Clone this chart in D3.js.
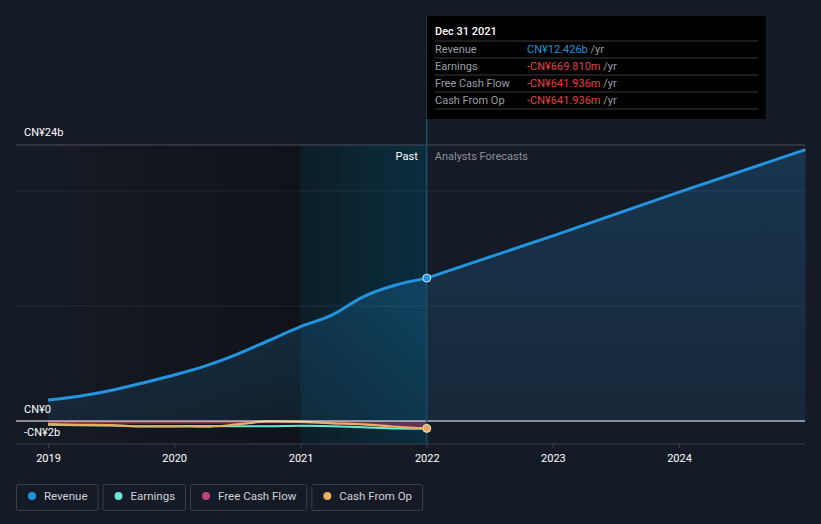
<!DOCTYPE html>
<html><head><meta charset="utf-8">
<script src="https://cdn.jsdelivr.net/npm/d3@7"></script>
<style>
html,body{margin:0;padding:0;background:#151b26;}
svg{display:block;font-family:Roboto,"Noto Sans",sans-serif;}
</style></head>
<body>
<svg id="c" width="821" height="524"></svg>
<script>
// ---- data ----
const revenueDates = ["2019-01-01","2019-04-01","2019-07-01","2019-10-01","2020-01-01","2020-04-01","2020-07-01","2020-10-01","2021-01-01","2021-04-01","2021-07-01","2021-10-01","2022-01-01"];
const revenueValues = [1.83,2.15,2.65,3.3,4.0,4.8,5.8,7.0,8.2,9.2,10.8,11.8,12.426];
const forecastDates = ["2022-01-01","2023-01-01","2024-01-01","2025-01-01"];
const forecastValues = [12.426,16.1,19.9,23.6];
const smallDates = ["2019-01-01","2019-04-01","2019-07-01","2019-10-01","2020-01-01","2020-04-01","2020-07-01","2020-10-01","2021-01-01","2021-04-01","2021-07-01","2021-10-01","2022-01-01"];
const earningsValues = [-0.33,-0.36,-0.40,-0.45,-0.45,-0.44,-0.45,-0.45,-0.42,-0.46,-0.55,-0.66,-0.670];
const fcfValues = [-0.12,-0.13,-0.14,-0.14,-0.14,-0.14,-0.13,-0.10,-0.10,-0.14,-0.25,-0.45,-0.642];
const cfoValues = [-0.27,-0.33,-0.36,-0.48,-0.46,-0.50,-0.30,-0.04,-0.08,-0.2,-0.3,-0.5,-0.642];
const yTickValues = [24,0,-2];
const yTickLabels = ["CN¥24b","CN¥0","-CN¥2b"];
const xTickYears = [2019,2020,2021,2022,2023,2024];
const legendLabels = ["Revenue","Earnings","Free Cash Flow","Cash From Op"];
const legendColors = ["#2394df","#6ce5d3","#c2407e","#e8ad5e"];
const tooltipRows = [["Revenue","CN¥12.426b","#2394df"],["Earnings","-CN¥669.810m","#e64040"],["Free Cash Flow","-CN¥641.936m","#e64040"],["Cash From Op","-CN¥641.936m","#e64040"]];

const svg = d3.select("#c");
const parse = d3.timeParse("%Y-%m-%d");
const left = 16, right = 805;
const x = d3.scaleTime().domain([parse("2019-01-01"), parse("2025-01-01")]).range([48, 805.5]);
const y = d3.scaleLinear().domain([-2, 24]).range([444, 145]);
const nowX = x(parse("2022-01-01"));
const hiX = x(parse("2021-01-01"));

const defs = svg.append("defs");
const g1 = defs.append("linearGradient").attr("id","pastG").attr("x1","0").attr("x2","1");
g1.append("stop").attr("offset","0").attr("stop-color","#151b25");
g1.append("stop").attr("offset","1").attr("stop-color","#0f1319");
const g2 = defs.append("linearGradient").attr("id","hiG").attr("x1","0").attr("x2","1");
g2.append("stop").attr("offset","0").attr("stop-color","#0d1f29");
g2.append("stop").attr("offset","1").attr("stop-color","#0a2d3e");
const g3 = defs.append("linearGradient").attr("id","areaG").attr("x1","0").attr("x2","0").attr("y1","0").attr("y2","1");
g3.append("stop").attr("offset","0").attr("stop-color","#2394df").attr("stop-opacity",0.22);
g3.append("stop").attr("offset","1").attr("stop-color","#2394df").attr("stop-opacity",0.10);

// background regions
svg.append("rect").attr("x",left).attr("y",145).attr("width",hiX-left).attr("height",444-145).attr("fill","url(#pastG)");
svg.append("rect").attr("x",hiX).attr("y",145).attr("width",nowX-hiX).attr("height",444-145).attr("fill","url(#hiG)");

// gridlines
[10,20].forEach(v=>svg.append("line").attr("x1",left).attr("x2",right).attr("y1",y(v)).attr("y2",y(v)).attr("stroke","#ffffff").attr("stroke-opacity",0.07));
svg.append("line").attr("x1",left).attr("x2",right).attr("y1",y(24)).attr("y2",y(24)).attr("stroke","#4a4f5a");
svg.append("line").attr("x1",left).attr("x2",right).attr("y1",444).attr("y2",444).attr("stroke","#3a3f4a");

// revenue area
const revPast = revenueDates.map((d,i)=>({d:parse(d),v:revenueValues[i]}));
const revFc = forecastDates.map((d,i)=>({d:parse(d),v:forecastValues[i]}));
const area = d3.area().x(p=>x(p.d)).y0(y(0)).y1(p=>y(p.v)).curve(d3.curveMonotoneX);
const areaLin = d3.area().x(p=>x(p.d)).y0(y(0)).y1(p=>y(p.v));
svg.append("path").datum(revPast).attr("d",area).attr("fill","url(#areaG)");
svg.append("path").datum(revFc).attr("d",areaLin).attr("fill","url(#areaG)");

// small series
const sm = (vals)=>smallDates.map((d,i)=>({d:parse(d),v:vals[i]}));
const line = d3.line().x(p=>x(p.d)).y(p=>y(p.v)).curve(d3.curveMonotoneX);
const lineLin = d3.line().x(p=>x(p.d)).y(p=>y(p.v));
svg.append("path").datum(sm(fcfValues)).attr("d",area).attr("fill","#c2407e").attr("fill-opacity",0.45);
svg.append("path").datum(sm(earningsValues)).attr("d",line).attr("fill","none").attr("stroke",legendColors[1]).attr("stroke-width",2);
svg.append("path").datum(sm(fcfValues)).attr("d",line).attr("fill","none").attr("stroke","#a8364a").attr("stroke-width",2);
svg.append("path").datum(sm(cfoValues)).attr("d",line).attr("fill","none").attr("stroke",legendColors[3]).attr("stroke-width",2.2);

// zero line
svg.append("line").attr("x1",left).attr("x2",right).attr("y1",y(0)).attr("y2",y(0)).attr("stroke","#ffffff").attr("stroke-width",1.2);

// revenue line
svg.append("path").datum(revPast).attr("d",line).attr("fill","none").attr("stroke",legendColors[0]).attr("stroke-width",3);
svg.append("path").datum(revFc).attr("d",lineLin).attr("fill","none").attr("stroke",legendColors[0]).attr("stroke-width",3);

// now line
svg.append("line").attr("x1",nowX).attr("x2",nowX).attr("y1",16).attr("y2",444).attr("stroke","#1d4d60").attr("stroke-width",1.5);

// dots
svg.append("circle").attr("cx",nowX).attr("cy",y(12.426)).attr("r",4).attr("fill",legendColors[0]).attr("stroke","#cfe6f7").attr("stroke-width",1);
svg.append("circle").attr("cx",nowX).attr("cy",y(-0.642)).attr("r",4).attr("fill",legendColors[3]).attr("stroke","#f1e6d0").attr("stroke-width",1);

// y labels
yTickValues.forEach((v,i)=>{
  const yy = v===24 ? y(v)-9 : (v===0 ? y(v)-8 : y(v)-8);
  svg.append("text").attr("x",24).attr("y",yy).attr("fill","#ffffff").attr("font-size",11).text(yTickLabels[i]);
});

// x axis
const xAxis = d3.axisBottom(x).tickValues(xTickYears.map(yr=>new Date(yr,0,1))).tickFormat(d3.timeFormat("%Y")).tickSize(4).tickPadding(6);
const ga = svg.append("g").attr("transform","translate(0,444)").call(xAxis);
ga.select(".domain").remove();
ga.selectAll("line").attr("stroke","#3a3f4a");
ga.selectAll("text").attr("fill","#ffffff").attr("font-size",11).attr("font-family","Roboto,sans-serif");

// past / forecast labels
svg.append("text").attr("x",nowX-9).attr("y",160).attr("text-anchor","end").attr("fill","#ffffff").attr("font-size",11).text("Past");
svg.append("text").attr("x",nowX+8).attr("y",160).attr("fill","#8a9099").attr("font-size",11).text("Analysts Forecasts");

// tooltip
const tt = svg.append("g");
tt.append("rect").attr("x",nowX).attr("y",16).attr("width",339).attr("height",103).attr("fill","#000000");
tt.append("text").attr("x",435).attr("y",35).attr("fill","#ffffff").attr("font-size",11).attr("font-weight",500).text("Dec 31 2021");
tooltipRows.forEach((r,i)=>{
  const ry = 41 + i*17;
  tt.append("line").attr("x1",435).attr("x2",758).attr("y1",ry).attr("y2",ry).attr("stroke","#3a3a3a");
  tt.append("text").attr("x",435).attr("y",ry+12).attr("fill","#9a9ea5").attr("font-size",11).text(r[0]);
  const t = tt.append("text").attr("x",527).attr("y",ry+12).attr("font-size",11);
  t.append("tspan").attr("fill",r[2]).text(r[1]);
  t.append("tspan").attr("fill","#9a9ea5").text(" /yr");
});
tt.append("line").attr("x1",435).attr("x2",758).attr("y1",109).attr("y2",109).attr("stroke","#3a3a3a");

// legend
let lx = 16;
legendLabels.forEach((lab,i)=>{
  const g = svg.append("g");
  const t = g.append("text").attr("x",lx+28).attr("y",500).attr("fill","#cfd2d6").attr("font-size",11.5).text(lab);
  const w = t.node().getComputedTextLength();
  const bw = w + 38;
  g.insert("rect","text").attr("x",lx+0.5).attr("y",484.5).attr("width",bw).attr("height",26).attr("rx",2).attr("fill","none").attr("stroke","#3a3f4a");
  g.append("circle").attr("cx",lx+16).attr("cy",496).attr("r",4).attr("fill",legendColors[i]);
  lx += bw + 5;
});
</script>
</body></html>
